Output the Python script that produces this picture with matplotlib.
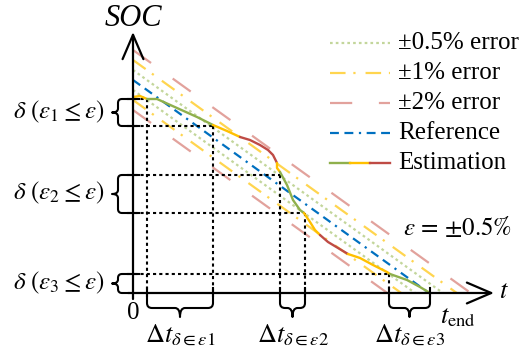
import numpy as np
import matplotlib
matplotlib.use('Agg')
from matplotlib import pyplot as plt
from matplotlib.path import Path
from matplotlib.patches import PathPatch

plt.rcParams['font.family'] = ['Liberation Serif', 'DejaVu Serif']
plt.rcParams['mathtext.fontset'] = 'stix'

# Reference SOC line (time, SOC in drawing units)
ref_t = [0, 296]
ref_soc = [213, 0]

# error bands around the reference
err_labels = ['±0.5% error', '±1% error', '±2% error']
err_offsets = [10, 20, 30]

# estimated SOC, split into coloured pieces
est_t = [0, 7, 14,
         24, 44, 64, 80,
         94, 107,
         117, 127, 135, 140, 144,
         144, 147,
         154, 160, 167, 171,
         177, 182, 187,
         195, 205, 215,
         227, 240, 254, 257,
         274, 287, 297]
est_soc = [196, 197, 194,
           194, 185, 176, 168,
           162, 156,
           153, 148, 143, 138, 130,
           125, 121,
           108, 93, 83, 80,
           71, 63, 58,
           51, 45, 39,
           35, 28, 21, 19,
           13, 6, 0]
seg_ends = [2, 6, 8, 13, 15, 19, 22, 25, 29, 32]
seg_colors = ['y', 'g', 'y', 'r', 'y', 'g', 'y', 'r', 'y', 'g']

# marked SOC error levels and time intervals
delta_levels = [(194, 167), (118, 80), (19, 0)]
delta_labels = [r'$\delta\ (\varepsilon_1 \leq \varepsilon)$',
                r'$\delta\ (\varepsilon_2 \leq \varepsilon)$',
                r'$\delta\ (\varepsilon_3 \leq \varepsilon)$']
dt_spans = [(14, 80), (147, 172), (256, 297)]
dt_labels = [r'$\Delta t_{\delta\in\varepsilon 1}$',
             r'$\Delta t_{\delta\in\varepsilon 2}$',
             r'$\Delta t_{\delta\in\varepsilon 3}$']
# grid corners (level, time) for the dotted guide lines
guide_soc = [194, 167, 118, 80, 19]
guide_t = [14, 80, 147, 172, 256]

colors = {'g': '#8fb04c', 'y': '#ffc000', 'r': '#bf4b45'}
band_colors = ['#c3d69b', '#ffd54f', '#e2a29c']
band_dashes = [(1.2, 1.4), (7, 3.5, 1, 4.5), (10, 12)]
ref_color = '#0070c0'
ref_dashes = (4, 2.5, 4, 2.5, 1, 2.5)
FS = 18


def brace(ax, a, b, n, h1, r, h2, lw=1.5):
    a, b, n = np.array(a, float), np.array(b, float), np.array(n, float)
    L = np.linalg.norm(b - a)
    u = (b - a) / L
    m = L / 2
    local = [(0, 0), (0, h1 - r), (0, h1), (r, h1), (m - r, h1), (m, h1), (m, h2),
             (m, h1), (m + r, h1), (L - r, h1), (L, h1), (L, h1 - r), (L, 0)]
    codes = [Path.MOVETO, Path.LINETO, Path.CURVE3, Path.CURVE3, Path.LINETO,
             Path.CURVE3, Path.CURVE3, Path.CURVE3, Path.CURVE3, Path.LINETO,
             Path.CURVE3, Path.CURVE3, Path.LINETO]
    verts = [a + p * u + q * n for p, q in local]
    ax.add_patch(PathPatch(Path(verts, codes), fill=False, lw=lw, color='black',
                           capstyle='round', joinstyle='round', zorder=6))


fig = plt.figure(figsize=(5.19, 3.47), dpi=100)
ax = fig.add_axes([0, 0, 1, 1])
ax.set_xlim(-133, 386)
ax.set_ylim(-54, 293)
ax.axis('off')

# error bands
k = ref_soc[0] / ref_t[1]
for off, c, d in zip(err_offsets, band_colors, band_dashes):
    for s in (1, -1):
        s0 = ref_soc[0] + s * off
        ax.plot([0, s0 / k], [s0, 0], color=c, lw=1.6, dashes=d, zorder=2)

# reference
ax.plot(ref_t, ref_soc, color=ref_color, lw=1.6, dashes=ref_dashes, zorder=3)

# dotted guides
for lv, t in zip(guide_soc, guide_t):
    ax.plot([-5, t], [lv, lv], color='black', lw=1.5, dashes=(1.5, 1.5), zorder=4)
    ax.plot([t, t], [lv, 0], color='black', lw=1.5, dashes=(1.5, 1.5), zorder=4)
    ax.plot([-5, 6], [lv, lv], color='black', lw=1.5, zorder=6)
    ax.plot([t, t], [-3, 5], color='black', lw=1.5, zorder=6)
ax.plot([297, 297], [-3, 5], color='black', lw=1.5, zorder=6)

# estimation
start = 0
for end, c in zip(seg_ends, seg_colors):
    ax.plot(est_t[start:end + 1], est_soc[start:end + 1], color=colors[c], lw=1.7,
            solid_capstyle='round', zorder=5)
    start = end

# axes with arrows
ax.annotate('', xy=(0, 261), xytext=(0, -6),
            arrowprops=dict(arrowstyle='->,head_length=0.7,head_width=0.3', lw=1.6,
                            color='black', mutation_scale=25, shrinkA=0, shrinkB=0), zorder=7)
ax.annotate('', xy=(361, 0), xytext=(-5, 0),
            arrowprops=dict(arrowstyle='->,head_length=0.7,head_width=0.3', lw=1.6,
                            color='black', mutation_scale=25, shrinkA=0, shrinkB=0), zorder=7)
ax.text(0, 275, 'SOC', fontsize=22, fontstyle='italic', ha='center', va='center')
ax.text(371, 1, '$t$', fontsize=FS + 1, ha='center', va='center')
ax.text(0, -20, '0', fontsize=FS, ha='center', va='center')

# left braces and labels
for (hi, lo), lab in zip(delta_levels, delta_labels):
    brace(ax, (-5, hi), (-5, lo), (-1, 0), 10, 4, 16)
    ax.text(-29, (hi + lo) / 2 + 1, lab, fontsize=FS, ha='right', va='center')

# bottom braces and labels
for (t0, t1), lab in zip(dt_spans, dt_labels):
    brace(ax, (t0, 0), (t1, 0), (0, -1), 15, 5, 24)
    ax.text((t0 + t1) / 2, -42, lab, fontsize=FS + 1, ha='center', va='center')
ax.text(307, -25, r'$t_{\mathrm{end}}$', fontsize=FS + 1, ha='left', va='center')

ax.text(379, 66, r'$\varepsilon \,=\, {\pm}0.5\%$', fontsize=FS, ha='right', va='center')

# legend drawn by hand
leg_y = [250, 220, 190, 160, 130]
for y, c, d, lab in zip(leg_y, band_colors, band_dashes, err_labels):
    ax.plot([197, 257], [y, y], color=c, lw=1.6, dashes=d)
    ax.text(265, y, lab, fontsize=FS, ha='left', va='center')
ax.plot([197, 257], [leg_y[3], leg_y[3]], color=ref_color, lw=1.6, dashes=ref_dashes)
ax.text(265, leg_y[3], 'Reference', fontsize=FS, ha='left', va='center')
for i, c in enumerate(['g', 'y', 'r']):
    ax.plot([197 + 20 * i, 217 + 20 * i], [leg_y[4], leg_y[4]], color=colors[c], lw=1.7)
ax.text(265, leg_y[4], 'Estimation', fontsize=FS, ha='left', va='center')

fig.savefig('out.png', dpi=100)
